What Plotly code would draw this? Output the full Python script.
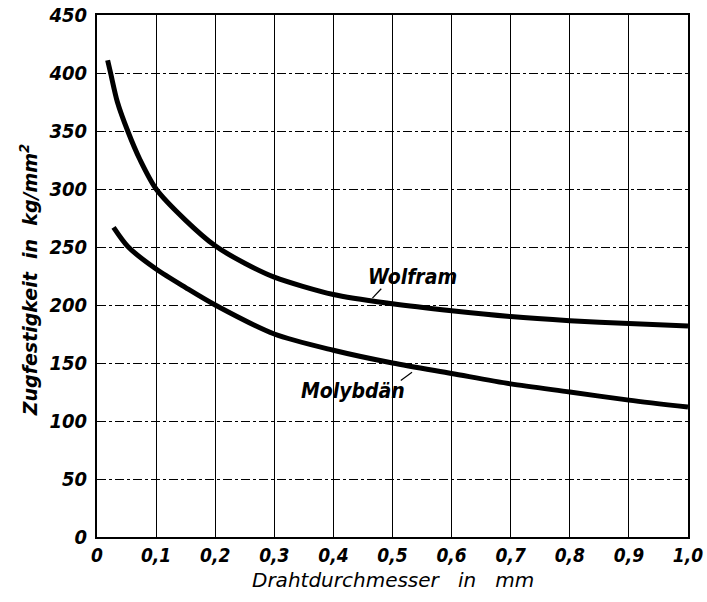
import plotly.graph_objects as go

# Data
wolfram_x = [0.018, 0.023, 0.0345, 0.052, 0.073, 0.1, 0.15, 0.2, 0.25, 0.3, 0.4, 0.5, 0.6, 0.7, 0.8, 0.9, 1.0]
wolfram_y = [411, 400, 375, 350, 325, 300, 273, 251, 236, 224, 209, 201, 195, 190, 186.5, 184, 182]

molybdaen_x = [0.028, 0.053, 0.1, 0.15, 0.2, 0.3, 0.4, 0.5, 0.6, 0.7, 0.8, 0.9, 1.0]
molybdaen_y = [267, 250, 231, 215, 200, 175, 161, 150, 141, 132, 125, 118, 112]

x_tickvals = [0, 0.1, 0.2, 0.3, 0.4, 0.5, 0.6, 0.7, 0.8, 0.9, 1.0]
x_ticktext = ["0", "0,1", "0,2", "0,3", "0,4", "0,5", "0,6", "0,7", "0,8", "0,9", "1,0"]
y_tickvals = [0, 50, 100, 150, 200, 250, 300, 350, 400, 450]
y_ticktext = ["0", "50", "100", "150", "200", "250", "300", "350", "400", "450"]

labels = ["Wolfram", "Molybdän"]
label_x = [0.533, 0.433]
label_y = [224, 126]
leader_x0 = [0.466, 0.514]
leader_y0 = [206, 135]
leader_x1 = [0.481, 0.533]
leader_y1 = [214, 142]

x_title = "Drahtdurchmesser&nbsp;&nbsp;&nbsp;in&nbsp;&nbsp;&nbsp;mm"
y_title = "Zugfestigkeit&nbsp;&nbsp;in&nbsp;&nbsp;kg/mm<sup>2</sup>"

FONT = "DejaVu Sans Condensed"

fig = go.Figure()
fig.add_trace(go.Scatter(x=wolfram_x, y=wolfram_y, mode="lines",
                         line=dict(color="black", width=5, shape="spline", smoothing=0.8),
                         showlegend=False, hoverinfo="skip"))
fig.add_trace(go.Scatter(x=molybdaen_x, y=molybdaen_y, mode="lines",
                         line=dict(color="black", width=5, shape="spline", smoothing=0.8),
                         showlegend=False, hoverinfo="skip"))

for i in range(len(labels)):
    fig.add_trace(go.Scatter(x=[leader_x0[i], leader_x1[i]], y=[leader_y0[i], leader_y1[i]],
                             mode="lines", line=dict(color="black", width=1.2),
                             showlegend=False, hoverinfo="skip"))
    fig.add_annotation(x=label_x[i], y=label_y[i], text=labels[i], showarrow=False,
                       font=dict(family=FONT, size=21, color="black", style="italic", weight=600))

# axis titles
fig.add_annotation(xref="paper", yref="paper", x=0.5, y=-0.083, yanchor="middle",
                   text=x_title, showarrow=False,
                   font=dict(family="DejaVu Sans", size=20, color="black", style="italic"))
fig.add_annotation(xref="paper", yref="paper", x=-0.115, y=0.492, xanchor="center", yanchor="middle",
                   text=y_title, showarrow=False, textangle=-90,
                   font=dict(family="DejaVu Sans", size=19, color="black", style="italic", weight=600))

fig.update_layout(
    width=707, height=602,
    margin=dict(l=97, r=19, t=15, b=65, autoexpand=False),
    paper_bgcolor="white", plot_bgcolor="white",
    font=dict(family=FONT, color="black"),
    xaxis=dict(
        range=[0, 1.0], tickvals=x_tickvals, ticktext=x_ticktext,
        showgrid=True, gridcolor="black", gridwidth=1.2,
        showline=True, linecolor="black", linewidth=2, mirror=True,
        ticks="", zeroline=False, automargin=False, ticklabeloverflow="allow",
        tickfont=dict(family=FONT, size=19, style="italic", weight="bold"),
    ),
    yaxis=dict(
        range=[0, 450], tickvals=y_tickvals, ticktext=y_ticktext,
        showgrid=True, gridcolor="black", gridwidth=1, griddash="dashdot",
        showline=True, linecolor="black", linewidth=2, mirror=True,
        ticks="", zeroline=False, automargin=False, ticklabelstandoff=4,
        ticklabeloverflow="allow",
        tickfont=dict(family=FONT, size=20, style="italic", weight="bold"),
    ),
)

fig.write_html("out.html", config={"displayModeBar": False},
               post_script="document.body.style.margin='0';")
